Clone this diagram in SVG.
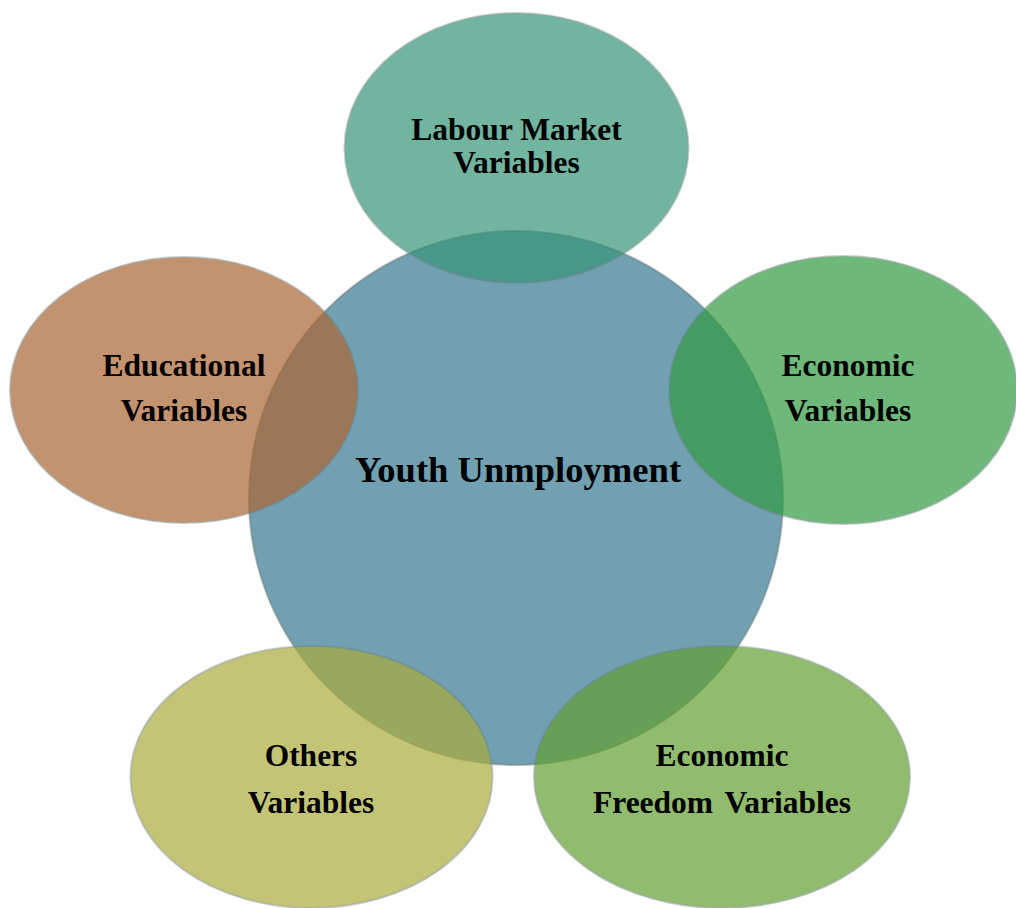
<svg xmlns="http://www.w3.org/2000/svg" width="1016" height="908" viewBox="0 0 1016 908">
<style>
.sh{stroke:#6d7f80;stroke-opacity:0.55;stroke-width:2}
.sat{opacity:0.7}
.t{font-family:"Liberation Serif","Times New Roman",serif;font-weight:bold;fill:#000;text-anchor:middle}
.ts{font-size:31.5px}
.tc{font-size:36.6px}
</style>
<rect width="1016" height="908" fill="#ffffff"/>
<g id="connectors"/>
<g id="center">
<circle class="sh" cx="516" cy="498" r="267" fill="#70a0b1"/>
<text class="t tc" x="518" y="482">Youth Unmployment</text>
</g>
<g id="labour">
<ellipse class="sh sat" cx="516.5" cy="148" rx="172" ry="135" fill="#369577"/>
<text class="t ts" x="516.5" y="140">Labour Market</text>
<text class="t ts" x="516.5" y="173">Variables</text>
</g>
<g id="educational">
<ellipse class="sh sat" cx="184" cy="390" rx="174" ry="133" fill="#ab6633"/>
<text class="t ts" x="184" y="376">Educational</text>
<text class="t ts" x="184" y="421">Variables</text>
</g>
<g id="economic">
<ellipse class="sh sat" cx="843" cy="390" rx="174" ry="134" fill="#319b41"/>
<text class="t ts" x="848" y="376">Economic</text>
<text class="t ts" x="848" y="421">Variables</text>
</g>
<g id="others">
<ellipse class="sh sat" cx="311.5" cy="777" rx="181" ry="131" fill="#abac3d"/>
<text class="t ts" x="311" y="766">Others</text>
<text class="t ts" x="311" y="813">Variables</text>
</g>
<g id="freedom">
<ellipse class="sh sat" cx="722" cy="777" rx="188" ry="131" fill="#63a130"/>
<text class="t ts" x="722" y="766">Economic</text>
<text class="t ts" x="722" y="813" word-spacing="4">Freedom Variables</text>
</g>
</svg>
